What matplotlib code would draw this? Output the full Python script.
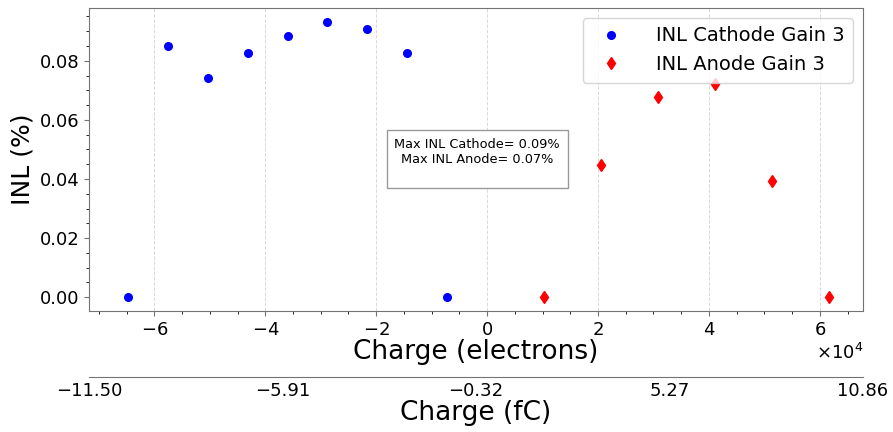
import numpy as np
import matplotlib.pyplot as plt

# charge points (electrons) and INL (%)
cathode_q = [-64700, -57500, -50300, -43100, -35900, -28800, -21600, -14400, -7200]
cathode_inl = [0.0, 0.0849, 0.0743, 0.0826, 0.0883, 0.0932, 0.0907, 0.0826, 0.0]
anode_q = [10300, 20600, 30800, 41100, 51400, 61700]
anode_inl = [0.0, 0.0449, 0.0678, 0.0722, 0.0394, 0.0]

fc_per_electron = 1.602e-4
xlims = (-71785, 67790)

fig = plt.figure(figsize=(8.93, 4.32), dpi=100)
ax = fig.add_axes([0.0997, 0.28, 0.8667, 0.7015])

ax.plot(cathode_q, cathode_inl, 'o', color='blue', markersize=5.5, label='INL Cathode Gain 3')
ax.plot(anode_q, anode_inl, 'd', color='red', markersize=6, label='INL Anode Gain 3')
ax.set_xlim(xlims)
ax.ticklabel_format(axis='x', style='sci', scilimits=(0, 0), useMathText=True)
ax.minorticks_on()
ax.grid(axis='x', which='major', linestyle='--', color='0.85', linewidth=0.7)
for s in ax.spines.values():
    s.set_color('0.45')
ax.tick_params(labelsize=13, colors='0.45', labelcolor='black')
ax.xaxis.get_offset_text().set_fontsize(13)
ax.set_xlabel('Charge (electrons)', fontsize=19, labelpad=0)
ax.set_ylabel('INL (%)', fontsize=18)
ax.legend(loc='upper right', fontsize=14, handletextpad=1.3, borderpad=0.45)

txt = 'Max INL Cathode= %.2f%%\nMax INL Anode= %.2f%%\n' % (max(cathode_inl), max(anode_inl))
ax.text(-1800, 0.054, txt, fontsize=9.3, ha='center', va='top', multialignment='center',
        bbox=dict(boxstyle='square,pad=0.6', facecolor='white', edgecolor='0.6'))

# second axis in fC
ax2 = ax.twiny()
ax2.set_xlim(xlims)
ax2.xaxis.set_ticks_position('bottom')
ax2.xaxis.set_label_position('bottom')
ax2.spines['bottom'].set_position(('outward', 47.5))
for s in ['top', 'left', 'right']:
    ax2.spines[s].set_visible(False)
ax2.spines['bottom'].set_color('0.45')
ticks = np.linspace(xlims[0], xlims[1], 5)
ax2.set_xticks(ticks)
ax2.set_xticklabels([('%.2f' % (t * fc_per_electron)).replace('-', '\u2212') for t in ticks])
ax2.tick_params(length=0, labelsize=13)
ax2.set_xlabel('Charge (fC)', fontsize=19, labelpad=0)

fig.savefig('out.png', dpi=100)
